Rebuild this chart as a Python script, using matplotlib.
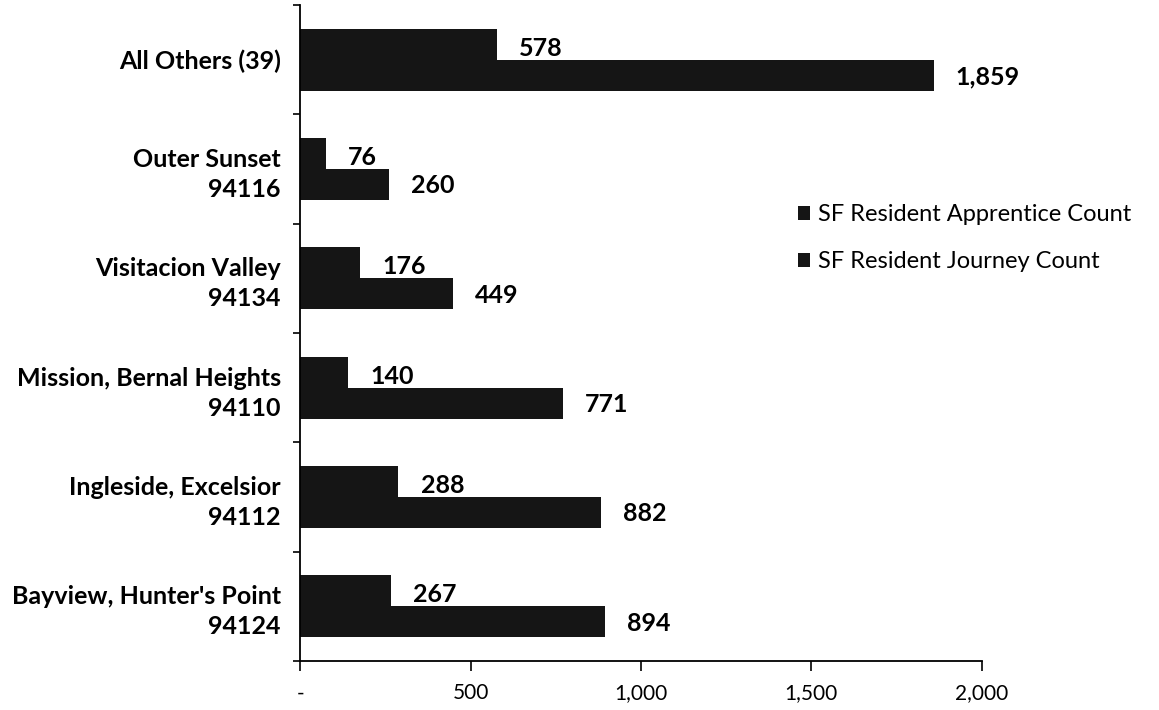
import numpy as np
import matplotlib.pyplot as plt
from matplotlib.ticker import FuncFormatter

plt.rcParams['font.family'] = ['Lato', 'DejaVu Sans']

# data, bottom to top
categories = ["Bayview, Hunter's Point\n94124", "Ingleside, Excelsior\n94112",
              "Mission, Bernal Heights\n94110", "Visitacion Valley\n94134",
              "Outer Sunset\n94116", "All Others (39)"]
apprentice = [267, 288, 140, 176, 76, 578]
journey = [894, 882, 771, 449, 260, 1859]
series_names = ['SF Resident Apprentice Count', 'SF Resident Journey Count']

fig = plt.figure(figsize=(11.59, 7.10), dpi=100)
ax = fig.add_axes([0.259, 0.069, 0.588, 0.924])

y = np.arange(len(categories))
h = 0.284
color = '#151515'
b1 = ax.barh(y + h / 2, apprentice, height=h, color=color, label=series_names[0])
b2 = ax.barh(y - h / 2, journey, height=h, color=color, label=series_names[1])

# value labels
for yi, v in zip(y, apprentice):
    ax.annotate(f'{v:,}', (v, yi + h / 2), xytext=(16, -3), textcoords='offset points',
                va='center', ha='left', fontsize=18, fontweight='bold')
for yi, v in zip(y, journey):
    ax.annotate(f'{v:,}', (v, yi - h / 2), xytext=(16, -1), textcoords='offset points',
                va='center', ha='left', fontsize=18, fontweight='bold')

ax.set_xlim(0, 2000)
ax.set_ylim(-0.5, len(categories) - 0.5)
ax.set_xticks([0, 500, 1000, 1500, 2000])
ax.xaxis.set_major_formatter(FuncFormatter(lambda v, p: '-' if v == 0 else f'{int(v):,}'))
ax.tick_params(axis='x', labelsize=15, length=7, width=1.2, pad=9, direction='out')

ax.set_yticks(y)
ax.set_yticklabels(categories, fontsize=18, fontweight='bold', linespacing=1.37)
ax.tick_params(axis='y', length=0, pad=14)
ax.set_yticks(np.arange(len(categories) + 1) - 0.5, minor=True)
ax.tick_params(axis='y', which='minor', length=5, width=1.2, direction='out')

for s in ['top', 'right']:
    ax.spines[s].set_visible(False)
ax.spines['left'].set_linewidth(1.3)
ax.spines['bottom'].set_linewidth(1.3)

fig.legend(handles=[b1, b2], loc='upper left', bbox_to_anchor=(0.670, 0.742),
           frameon=False, fontsize=17, handlelength=0.5, handleheight=0.5,
           handletextpad=0.35, labelspacing=1.1)

plt.savefig('out.png', dpi=100)
